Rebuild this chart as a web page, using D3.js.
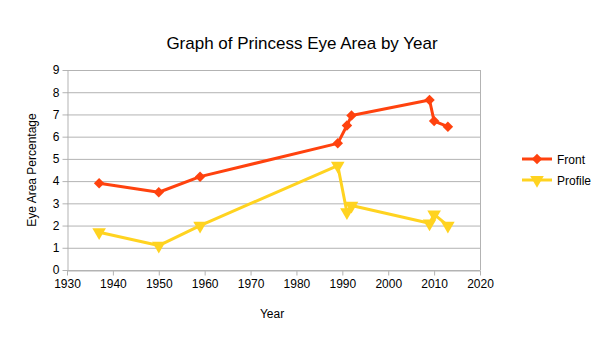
<!DOCTYPE html>
<html><head><meta charset="utf-8">
<script src="https://cdn.jsdelivr.net/npm/d3@7"></script>
<style>body{margin:0;background:#fff}svg{font-family:"Liberation Sans",Arial,sans-serif}</style>
</head><body><svg id="c" width="605" height="340"></svg>
<script>
const years = [1937, 1950, 1959, 1989, 1991, 1992, 2009, 2010, 2013];
const frontValues = [3.9, 3.5, 4.2, 5.7, 6.5, 6.95, 7.65, 6.7, 6.45];
const profileValues = [1.7, 1.1, 2.0, 4.7, 2.6, 2.9, 2.1, 2.5, 2.0];
const xTicks = [1930, 1940, 1950, 1960, 1970, 1980, 1990, 2000, 2010, 2020];
const yTicks = [0, 1, 2, 3, 4, 5, 6, 7, 8, 9];
const seriesNames = ["Front", "Profile"];
const seriesColors = ["#ff420e", "#ffd320"];

const svg = d3.select("#c");
const L = 67, R = 480, T = 70, B = 270;
const x = d3.scaleLinear().domain([1930, 2020]).range([L, R]);
const y = d3.scaleLinear().domain([0, 9]).range([B, T]);
const grid = "#b3b3b3";

// gridlines
svg.append("g").selectAll("line").data(yTicks).join("line")
  .attr("x1", L).attr("x2", R).attr("y1", d => y(d) + 0.5).attr("y2", d => y(d) + 0.5)
  .attr("stroke", grid).attr("stroke-width", 1);

// axes
const xa = svg.append("g").attr("transform", `translate(0,${B + 0.5})`)
  .call(d3.axisBottom(x).tickValues(xTicks).tickFormat(d3.format("d")).tickSize(5).tickSizeOuter(0));
const ya = svg.append("g").attr("transform", `translate(${L + 0.5},0)`)
  .call(d3.axisLeft(y).tickValues(yTicks).tickSize(5).tickSizeOuter(0));
[xa, ya].forEach(a => {
  a.select(".domain").attr("stroke", grid);
  a.selectAll(".tick line").attr("stroke", grid);
  a.selectAll("text").attr("fill", "#000").style("font-size", "12px").style("font-family", "Liberation Sans, Arial, sans-serif");
});
xa.selectAll("text").attr("dy", "0.71em").attr("y", 9);
ya.selectAll("text").attr("x", -8);
// right border
svg.append("line").attr("x1", R + 0.5).attr("x2", R + 0.5).attr("y1", T).attr("y2", B)
  .attr("stroke", grid);

const series = [frontValues, profileValues];
const line = d3.line().x(d => x(d[0])).y(d => y(d[1]));
const diamond = d3.symbol().type(d3.symbolDiamond2).size(70);
const tri = d3.symbol().type(d3.symbolTriangle).size(80);

series.forEach((vals, i) => {
  const pts = years.map((yr, j) => [yr, vals[j]]);
  svg.append("path").datum(pts).attr("d", line).attr("fill", "none")
    .attr("stroke", seriesColors[i]).attr("stroke-width", 3).attr("stroke-linejoin", "round");
  svg.append("g").selectAll("path").data(pts).join("path")
    .attr("d", i === 0 ? diamond : tri)
    .attr("transform", d => `translate(${x(d[0])},${y(d[1])})` + (i === 1 ? " rotate(180)" : ""))
    .attr("fill", seriesColors[i]);
});

// legend
seriesNames.forEach((n, i) => {
  const ly = 159 + i * 21;
  svg.append("line").attr("x1", 522).attr("x2", 552).attr("y1", ly).attr("y2", ly)
    .attr("stroke", seriesColors[i]).attr("stroke-width", 3);
  svg.append("path").attr("d", i === 0 ? diamond : tri)
    .attr("transform", `translate(537,${ly})` + (i === 1 ? " rotate(180)" : ""))
    .attr("fill", seriesColors[i]);
  svg.append("text").attr("x", 557).attr("y", ly + 4.5).text(n)
    .style("font-size", "12px").attr("fill", "#000");
});

// titles
svg.append("text").attr("x", 302).attr("y", 49).attr("text-anchor", "middle")
  .style("font-size", "17px").text("Graph of Princess Eye Area by Year");
svg.append("text").attr("x", 272).attr("y", 318).attr("text-anchor", "middle")
  .style("font-size", "12px").text("Year");
svg.append("text").attr("transform", "translate(36,170) rotate(-90)").attr("text-anchor", "middle")
  .style("font-size", "12px").text("Eye Area Percentage");
</script></body></html>
